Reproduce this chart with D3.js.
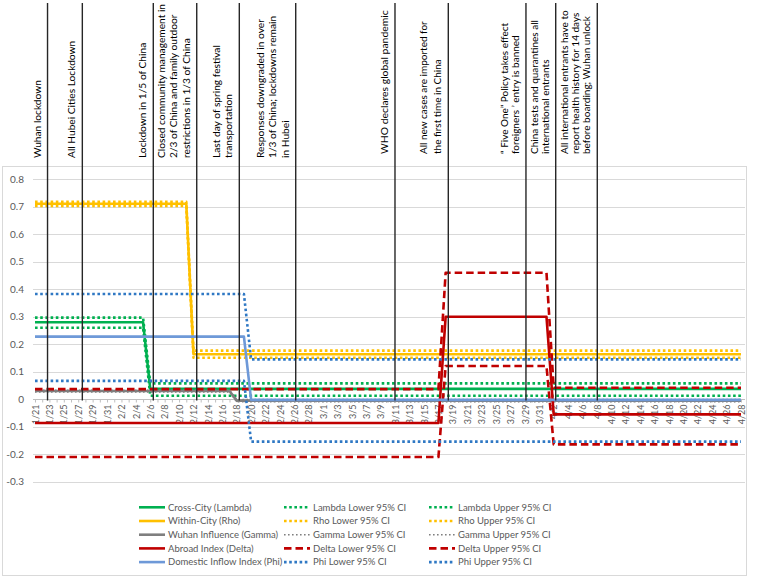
<!DOCTYPE html>
<html><head><meta charset="utf-8">
<script src="https://cdn.jsdelivr.net/npm/d3@7"></script>
<style>body{margin:0;background:#fff;} svg{display:block;}</style>
</head><body><svg id="chart" width="757" height="578"></svg>
<script>
// ---------- DATA ----------
const categories = [
"1/21","1/22","1/23","1/24","1/25","1/26","1/27","1/28","1/29","1/30","1/31",
"2/1","2/2","2/3","2/4","2/5","2/6","2/7","2/8","2/9","2/10","2/11","2/12","2/13","2/14","2/15","2/16","2/17","2/18","2/19","2/20","2/21","2/22","2/23","2/24","2/25","2/26","2/27","2/28","2/29",
"3/1","3/2","3/3","3/4","3/5","3/6","3/7","3/8","3/9","3/10","3/11","3/12","3/13","3/14","3/15","3/16","3/17","3/18","3/19","3/20","3/21","3/22","3/23","3/24","3/25","3/26","3/27","3/28","3/29","3/30","3/31",
"4/1","4/2","4/3","4/4","4/5","4/6","4/7","4/8","4/9","4/10","4/11","4/12","4/13","4/14","4/15","4/16","4/17","4/18","4/19","4/20","4/21","4/22","4/23","4/24","4/25","4/26","4/27","4/28"];

const lambda = [
0.279,0.279,0.279,0.279,0.279,0.279,0.279,0.279,0.279,0.279,
0.279,0.279,0.279,0.279,0.279,0.279,0.037,0.037,0.037,0.037,
0.037,0.037,0.037,0.037,0.037,0.037,0.037,0.037,0.037,0.037,
0.037,0.037,0.037,0.037,0.037,0.037,0.037,0.037,0.037,0.037,
0.037,0.037,0.037,0.037,0.037,0.037,0.037,0.037,0.037,0.037,
0.037,0.037,0.037,0.037,0.037,0.037,0.037,0.037,0.037,0.037,
0.037,0.037,0.037,0.037,0.037,0.037,0.037,0.037,0.037,0.037,
0.037,0.037,0.037,0.037,0.037,0.037,0.037,0.037,0.037,0.037,
0.037,0.037,0.037,0.037,0.037,0.037,0.037,0.037,0.037,0.037,
0.037,0.037,0.037,0.037,0.037,0.037,0.037,0.037,0.037];
const lambdaLower = [
0.259,0.259,0.259,0.259,0.259,0.259,0.259,0.259,0.259,0.259,
0.259,0.259,0.259,0.259,0.259,0.259,0.012,0.012,0.012,0.012,
0.012,0.012,0.012,0.012,0.012,0.012,0.012,0.012,0.012,0.012,
0.012,0.012,0.012,0.012,0.012,0.012,0.012,0.012,0.012,0.012,
0.012,0.012,0.012,0.012,0.012,0.012,0.012,0.012,0.012,0.012,
0.012,0.012,0.012,0.012,0.012,0.012,0.012,0.012,0.012,0.012,
0.012,0.012,0.012,0.012,0.012,0.012,0.012,0.012,0.012,0.012,
0.012,0.012,0.012,0.012,0.012,0.012,0.012,0.012,0.012,0.012,
0.012,0.012,0.012,0.012,0.012,0.012,0.012,0.012,0.012,0.012,
0.012,0.012,0.012,0.012,0.012,0.012,0.012,0.012,0.012];
const lambdaUpper = [
0.296,0.296,0.296,0.296,0.296,0.296,0.296,0.296,0.296,0.296,
0.296,0.296,0.296,0.296,0.296,0.296,0.057,0.057,0.057,0.057,
0.057,0.057,0.057,0.057,0.057,0.057,0.057,0.057,0.057,0.057,
0.057,0.057,0.057,0.057,0.057,0.057,0.057,0.057,0.057,0.057,
0.057,0.057,0.057,0.057,0.057,0.057,0.057,0.057,0.057,0.057,
0.057,0.057,0.057,0.057,0.057,0.057,0.057,0.057,0.057,0.057,
0.057,0.057,0.057,0.057,0.057,0.057,0.057,0.057,0.057,0.057,
0.057,0.057,0.057,0.057,0.057,0.057,0.057,0.057,0.057,0.057,
0.057,0.057,0.057,0.057,0.057,0.057,0.057,0.057,0.057,0.057,
0.057,0.057,0.057,0.057,0.057,0.057,0.057,0.057,0.057];

const rho = [
0.710,0.710,0.710,0.710,0.710,0.710,0.710,0.710,0.710,0.710,
0.710,0.710,0.710,0.710,0.710,0.710,0.710,0.710,0.710,0.710,
0.710,0.710,0.163,0.163,0.163,0.163,0.163,0.163,0.163,0.163,
0.163,0.163,0.163,0.163,0.163,0.163,0.163,0.163,0.163,0.163,
0.163,0.163,0.163,0.163,0.163,0.163,0.163,0.163,0.163,0.163,
0.163,0.163,0.163,0.163,0.163,0.163,0.163,0.163,0.163,0.163,
0.163,0.163,0.163,0.163,0.163,0.163,0.163,0.163,0.163,0.163,
0.163,0.163,0.163,0.163,0.163,0.163,0.163,0.163,0.163,0.163,
0.163,0.163,0.163,0.163,0.163,0.163,0.163,0.163,0.163,0.163,
0.163,0.163,0.163,0.163,0.163,0.163,0.163,0.163,0.163];
const rhoLower = [
0.702,0.702,0.702,0.702,0.702,0.702,0.702,0.702,0.702,0.702,
0.702,0.702,0.702,0.702,0.702,0.702,0.702,0.702,0.702,0.702,
0.702,0.702,0.150,0.150,0.150,0.150,0.150,0.150,0.150,0.150,
0.150,0.150,0.150,0.150,0.150,0.150,0.150,0.150,0.150,0.150,
0.150,0.150,0.150,0.150,0.150,0.150,0.150,0.150,0.150,0.150,
0.150,0.150,0.150,0.150,0.150,0.150,0.150,0.150,0.150,0.150,
0.150,0.150,0.150,0.150,0.150,0.150,0.150,0.150,0.150,0.150,
0.150,0.150,0.150,0.150,0.150,0.150,0.150,0.150,0.150,0.150,
0.150,0.150,0.150,0.150,0.150,0.150,0.150,0.150,0.150,0.150,
0.150,0.150,0.150,0.150,0.150,0.150,0.150,0.150,0.150];
const rhoUpper = [
0.717,0.717,0.717,0.717,0.717,0.717,0.717,0.717,0.717,0.717,
0.717,0.717,0.717,0.717,0.717,0.717,0.717,0.717,0.717,0.717,
0.717,0.717,0.176,0.176,0.176,0.176,0.176,0.176,0.176,0.176,
0.176,0.176,0.176,0.176,0.176,0.176,0.176,0.176,0.176,0.176,
0.176,0.176,0.176,0.176,0.176,0.176,0.176,0.176,0.176,0.176,
0.176,0.176,0.176,0.176,0.176,0.176,0.176,0.176,0.176,0.176,
0.176,0.176,0.176,0.176,0.176,0.176,0.176,0.176,0.176,0.176,
0.176,0.176,0.176,0.176,0.176,0.176,0.176,0.176,0.176,0.176,
0.176,0.176,0.176,0.176,0.176,0.176,0.176,0.176,0.176,0.176,
0.176,0.176,0.176,0.176,0.176,0.176,0.176,0.176,0.176];

const gamma = [
0.029,0.029,0.029,0.029,0.029,0.029,0.029,0.029,0.029,0.029,
0.029,0.029,0.029,0.029,0.029,0.029,0.029,0.029,0.029,0.029,
0.029,0.029,0.029,0.029,0.029,0.029,0.029,0.029,-0.006,-0.006,
-0.006,-0.006,-0.006,-0.006,-0.006,-0.006,-0.006,-0.006,-0.006,-0.006,
-0.006,-0.006,-0.006,-0.006,-0.006,-0.006,-0.006,-0.006,-0.006,-0.006,
-0.006,-0.006,-0.006,-0.006,-0.006,-0.006,-0.006,-0.006,-0.006,-0.006,
-0.006,-0.006,-0.006,-0.006,-0.006,-0.006,-0.006,-0.006,-0.006,-0.006,
-0.006,-0.006,-0.006,-0.006,-0.006,-0.006,-0.006,-0.006,-0.006,-0.006,
-0.006,-0.006,-0.006,-0.006,-0.006,-0.006,-0.006,-0.006,-0.006,-0.006,
-0.006,-0.006,-0.006,-0.006,-0.006,-0.006,-0.006,-0.006,-0.006];
const gammaLower = [
0.026,0.026,0.026,0.026,0.026,0.026,0.026,0.026,0.026,0.026,
0.026,0.026,0.026,0.026,0.026,0.026,0.026,0.026,0.026,0.026,
0.026,0.026,0.026,0.026,0.026,0.026,0.026,0.026,-0.010,-0.010,
-0.010,-0.010,-0.010,-0.010,-0.010,-0.010,-0.010,-0.010,-0.010,-0.010,
-0.010,-0.010,-0.010,-0.010,-0.010,-0.010,-0.010,-0.010,-0.010,-0.010,
-0.010,-0.010,-0.010,-0.010,-0.010,-0.010,-0.010,-0.010,-0.010,-0.010,
-0.010,-0.010,-0.010,-0.010,-0.010,-0.010,-0.010,-0.010,-0.010,-0.010,
-0.010,-0.010,-0.010,-0.010,-0.010,-0.010,-0.010,-0.010,-0.010,-0.010,
-0.010,-0.010,-0.010,-0.010,-0.010,-0.010,-0.010,-0.010,-0.010,-0.010,
-0.010,-0.010,-0.010,-0.010,-0.010,-0.010,-0.010,-0.010,-0.010];
const gammaUpper = [
0.032,0.032,0.032,0.032,0.032,0.032,0.032,0.032,0.032,0.032,
0.032,0.032,0.032,0.032,0.032,0.032,0.032,0.032,0.032,0.032,
0.032,0.032,0.032,0.032,0.032,0.032,0.032,0.032,-0.002,-0.002,
-0.002,-0.002,-0.002,-0.002,-0.002,-0.002,-0.002,-0.002,-0.002,-0.002,
-0.002,-0.002,-0.002,-0.002,-0.002,-0.002,-0.002,-0.002,-0.002,-0.002,
-0.002,-0.002,-0.002,-0.002,-0.002,-0.002,-0.002,-0.002,-0.002,-0.002,
-0.002,-0.002,-0.002,-0.002,-0.002,-0.002,-0.002,-0.002,-0.002,-0.002,
-0.002,-0.002,-0.002,-0.002,-0.002,-0.002,-0.002,-0.002,-0.002,-0.002,
-0.002,-0.002,-0.002,-0.002,-0.002,-0.002,-0.002,-0.002,-0.002,-0.002,
-0.002,-0.002,-0.002,-0.002,-0.002,-0.002,-0.002,-0.002,-0.002];

const delta = [
-0.087,-0.087,-0.087,-0.087,-0.087,-0.087,-0.087,-0.087,-0.087,-0.087,
-0.087,-0.087,-0.087,-0.087,-0.087,-0.087,-0.087,-0.087,-0.087,-0.087,
-0.087,-0.087,-0.087,-0.087,-0.087,-0.087,-0.087,-0.087,-0.087,-0.087,
-0.087,-0.087,-0.087,-0.087,-0.087,-0.087,-0.087,-0.087,-0.087,-0.087,
-0.087,-0.087,-0.087,-0.087,-0.087,-0.087,-0.087,-0.087,-0.087,-0.087,
-0.087,-0.087,-0.087,-0.087,-0.087,-0.087,-0.087,0.299,0.299,0.299,
0.299,0.299,0.299,0.299,0.299,0.299,0.299,0.299,0.299,0.299,
0.299,0.299,-0.056,-0.056,-0.056,-0.056,-0.056,-0.056,-0.056,-0.056,
-0.056,-0.056,-0.056,-0.056,-0.056,-0.056,-0.056,-0.056,-0.056,-0.056,
-0.056,-0.056,-0.056,-0.056,-0.056,-0.056,-0.056,-0.056,-0.056];
const deltaLower = [
-0.211,-0.211,-0.211,-0.211,-0.211,-0.211,-0.211,-0.211,-0.211,-0.211,
-0.211,-0.211,-0.211,-0.211,-0.211,-0.211,-0.211,-0.211,-0.211,-0.211,
-0.211,-0.211,-0.211,-0.211,-0.211,-0.211,-0.211,-0.211,-0.211,-0.211,
-0.211,-0.211,-0.211,-0.211,-0.211,-0.211,-0.211,-0.211,-0.211,-0.211,
-0.211,-0.211,-0.211,-0.211,-0.211,-0.211,-0.211,-0.211,-0.211,-0.211,
-0.211,-0.211,-0.211,-0.211,-0.211,-0.211,-0.211,0.120,0.120,0.120,
0.120,0.120,0.120,0.120,0.120,0.120,0.120,0.120,0.120,0.120,
0.120,0.120,-0.165,-0.165,-0.165,-0.165,-0.165,-0.165,-0.165,-0.165,
-0.165,-0.165,-0.165,-0.165,-0.165,-0.165,-0.165,-0.165,-0.165,-0.165,
-0.165,-0.165,-0.165,-0.165,-0.165,-0.165,-0.165,-0.165,-0.165];
const deltaUpper = [
0.036,0.036,0.036,0.036,0.036,0.036,0.036,0.036,0.036,0.036,
0.036,0.036,0.036,0.036,0.036,0.036,0.036,0.036,0.036,0.036,
0.036,0.036,0.036,0.036,0.036,0.036,0.036,0.036,0.036,0.036,
0.036,0.036,0.036,0.036,0.036,0.036,0.036,0.036,0.036,0.036,
0.036,0.036,0.036,0.036,0.036,0.036,0.036,0.036,0.036,0.036,
0.036,0.036,0.036,0.036,0.036,0.036,0.036,0.459,0.459,0.459,
0.459,0.459,0.459,0.459,0.459,0.459,0.459,0.459,0.459,0.459,
0.459,0.459,0.041,0.041,0.041,0.041,0.041,0.041,0.041,0.041,
0.041,0.041,0.041,0.041,0.041,0.041,0.041,0.041,0.041,0.041,
0.041,0.041,0.041,0.041,0.041,0.041,0.041,0.041,0.041];

const phi = [
0.227,0.227,0.227,0.227,0.227,0.227,0.227,0.227,0.227,0.227,
0.227,0.227,0.227,0.227,0.227,0.227,0.227,0.227,0.227,0.227,
0.227,0.227,0.227,0.227,0.227,0.227,0.227,0.227,0.227,0.227,
-0.003,-0.003,-0.003,-0.003,-0.003,-0.003,-0.003,-0.003,-0.003,-0.003,
-0.003,-0.003,-0.003,-0.003,-0.003,-0.003,-0.003,-0.003,-0.003,-0.003,
-0.003,-0.003,-0.003,-0.003,-0.003,-0.003,-0.003,-0.003,-0.003,-0.003,
-0.003,-0.003,-0.003,-0.003,-0.003,-0.003,-0.003,-0.003,-0.003,-0.003,
-0.003,-0.003,-0.003,-0.003,-0.003,-0.003,-0.003,-0.003,-0.003,-0.003,
-0.003,-0.003,-0.003,-0.003,-0.003,-0.003,-0.003,-0.003,-0.003,-0.003,
-0.003,-0.003,-0.003,-0.003,-0.003,-0.003,-0.003,-0.003,-0.003];
const phiLower = [
0.066,0.066,0.066,0.066,0.066,0.066,0.066,0.066,0.066,0.066,
0.066,0.066,0.066,0.066,0.066,0.066,0.066,0.066,0.066,0.066,
0.066,0.066,0.066,0.066,0.066,0.066,0.066,0.066,0.066,0.066,
-0.155,-0.155,-0.155,-0.155,-0.155,-0.155,-0.155,-0.155,-0.155,-0.155,
-0.155,-0.155,-0.155,-0.155,-0.155,-0.155,-0.155,-0.155,-0.155,-0.155,
-0.155,-0.155,-0.155,-0.155,-0.155,-0.155,-0.155,-0.155,-0.155,-0.155,
-0.155,-0.155,-0.155,-0.155,-0.155,-0.155,-0.155,-0.155,-0.155,-0.155,
-0.155,-0.155,-0.155,-0.155,-0.155,-0.155,-0.155,-0.155,-0.155,-0.155,
-0.155,-0.155,-0.155,-0.155,-0.155,-0.155,-0.155,-0.155,-0.155,-0.155,
-0.155,-0.155,-0.155,-0.155,-0.155,-0.155,-0.155,-0.155,-0.155];
const phiUpper = [
0.382,0.382,0.382,0.382,0.382,0.382,0.382,0.382,0.382,0.382,
0.382,0.382,0.382,0.382,0.382,0.382,0.382,0.382,0.382,0.382,
0.382,0.382,0.382,0.382,0.382,0.382,0.382,0.382,0.382,0.382,
0.144,0.144,0.144,0.144,0.144,0.144,0.144,0.144,0.144,0.144,
0.144,0.144,0.144,0.144,0.144,0.144,0.144,0.144,0.144,0.144,
0.144,0.144,0.144,0.144,0.144,0.144,0.144,0.144,0.144,0.144,
0.144,0.144,0.144,0.144,0.144,0.144,0.144,0.144,0.144,0.144,
0.144,0.144,0.144,0.144,0.144,0.144,0.144,0.144,0.144,0.144,
0.144,0.144,0.144,0.144,0.144,0.144,0.144,0.144,0.144,0.144,
0.144,0.144,0.144,0.144,0.144,0.144,0.144,0.144,0.144];

const yTickValues = [-0.3,-0.2,-0.1,0,0.1,0.2,0.3,0.4,0.5,0.6,0.7,0.8];
const yTickLabels = ["-0.3","-0.2","-0.1","0","0.1","0.2","0.3","0.4","0.5","0.6","0.7","0.8"];

// event markers: position on the category axis (index units, hand-placed in original)
const eventPos = [1.74, 6.57, 16.42, 22.45, 28.36, 36.19, 49.97, 57.37, 68.15, 72.28, 78.05];
const eventText = [
  ["Wuhan lockdown"],
  ["All Hubei Cities Lockdown"],
  ["Lockdown in 1/5 of China"],
  ["Closed community management in","2/3 of China and  family outdoor","restrictions in 1/3 of China"],
  ["Last day of spring festival","transportation"],
  ["Responses downgraded in over","1/3 of China; lockdowns remain","in Hubei"],
  ["WHO declares global pandemic"],
  ["All new cases are imported for","the first time in China"],
  ["\u201C Five One\u201D   Policy takes effect","foreigners \u2019  entry is banned"],
  ["China tests and quarantines all","international entrants"],
  ["All international entrants have to","report health history for 14 days","before boarding; Wuhan unlock"]
];

// ---------- STYLE / LAYOUT ----------
const GREEN="#00b050", YELLOW="#ffc000", GRAY="#7f7f7f", RED="#c00000", LBLUE="#6e99d8", DBLUE="#2f78c4";
const DOT="2.6,2.6", DASH="7.5,4";
const series = [
  {name:"Cross-City (Lambda)", data:lambda, color:GREEN, w:2.6, dash:null},
  {name:"Lambda Lower 95% CI", data:lambdaLower, color:GREEN, w:2.6, dash:DOT},
  {name:"Lambda Upper 95% CI", data:lambdaUpper, color:GREEN, w:2.6, dash:DOT},
  {name:"Within-City (Rho)", data:rho, color:YELLOW, w:2.6, dash:null},
  {name:"Rho Lower 95% CI", data:rhoLower, color:YELLOW, w:2.6, dash:DOT},
  {name:"Rho Upper 95% CI", data:rhoUpper, color:YELLOW, w:2.6, dash:DOT},
  {name:"Wuhan Influence (Gamma)", data:gamma, color:GRAY, w:2.6, dash:null},
  {name:"Gamma Lower 95% CI", data:gammaLower, color:GRAY, w:1.6, dash:"1.6,2.4"},
  {name:"Gamma Upper 95% CI", data:gammaUpper, color:GRAY, w:1.6, dash:"1.6,2.4"},
  {name:"Abroad Index (Delta)", data:delta, color:RED, w:2.6, dash:null},
  {name:"Delta Lower 95% CI", data:deltaLower, color:RED, w:2.6, dash:DASH},
  {name:"Delta Upper 95% CI", data:deltaUpper, color:RED, w:2.6, dash:DASH},
  {name:"Domestic Inflow Index (Phi)", data:phi, color:LBLUE, w:2.6, dash:null},
  {name:"Phi Lower 95% CI", data:phiLower, color:DBLUE, w:2.6, dash:DOT},
  {name:"Phi Upper 95% CI", data:phiUpper, color:DBLUE, w:2.6, dash:DOT}
];

const svg = d3.select("#chart");
const plot = {left:35, right:741, gridL:33, gridR:745};

const x = d3.scaleLinear().domain([0, categories.length-1]).range([plot.left, plot.right]);
const y = d3.scaleLinear().domain([-0.3, 0.8]).range([481.5, 179]);

// chart area border
svg.append("rect").attr("x",2.5).attr("y",166.5).attr("width",744).attr("height",409)
  .attr("fill","none").attr("stroke","#d9d9d9").attr("stroke-width",1);

// gridlines
svg.append("g").selectAll("line").data(yTickValues.filter(v=>v!==0)).join("line")
  .attr("x1",plot.gridL).attr("x2",plot.gridR)
  .attr("y1",d=>Math.round(y(d))+0.5).attr("y2",d=>Math.round(y(d))+0.5)
  .attr("stroke","#d9d9d9").attr("stroke-width",1);

// y labels
svg.append("g").selectAll("text").data(yTickValues).join("text")
  .attr("x",24).attr("y",d=>y(d)).attr("dy","0.35em")
  .attr("text-anchor","end").attr("font-family","Lato, 'Noto Sans', sans-serif")
  .attr("font-size",10).attr("fill","#595959")
  .text((d,i)=>yTickLabels[i]);

// x axis
const zeroY = Math.round(y(0))+0.5;
const xAxis = d3.axisBottom(x)
  .tickValues(d3.range(categories.length))
  .tickSize(3).tickFormat(i => i%2===0 ? categories[i] : "");
const gx = svg.append("g").attr("transform",`translate(0,${zeroY})`).call(xAxis);
gx.select(".domain").attr("stroke","#bfbfbf").attr("d",`M${plot.gridL},0H${plot.gridR}`);
gx.selectAll(".tick line").attr("stroke","#bfbfbf");
gx.selectAll(".tick text")
  .attr("font-family","Lato, 'Noto Sans', sans-serif").attr("font-size",9).attr("fill","#595959")
  .attr("transform","rotate(-90)").attr("text-anchor","end")
  .attr("x",-5).attr("y",0).attr("dy","0.35em");

// series
const line = d3.line().x((d,i)=>x(i)).y(d=>y(d));
svg.append("g").selectAll("path").data(series).join("path")
  .attr("d",s=>line(s.data)).attr("fill","none")
  .attr("stroke",s=>s.color).attr("stroke-width",s=>s.w)
  .attr("stroke-dasharray",s=>s.dash).attr("stroke-linejoin","round");

// event lines
svg.append("g").selectAll("line").data(eventPos).join("line")
  .attr("x1",d=>x(d)).attr("x2",d=>x(d)).attr("y1",3).attr("y2",zeroY+1)
  .attr("stroke","#262626").attr("stroke-width",1.4);

// event annotations (rotated, reading bottom-to-top, left of each marker line)
const evStyle = eventPos.map((p,i)=>({
  lh: i<6 ? 12.6 : (i===7 ? 14.5 : 11),
  fs: i<6 ? 10.2 : (i===6 ? 10.4 : 10),
  y0: i<6 ? 158 : 154
}));
const evG = svg.append("g").attr("font-family","Lato, 'Noto Sans', sans-serif").attr("fill","#000");
eventText.forEach((lines,i)=>{
  const st = evStyle[i];
  const lastCenter = x(eventPos[i]) - 10.5;
  const firstCenter = lastCenter - (lines.length-1)*st.lh;
  const t = evG.append("text")
    .attr("transform",`translate(${firstCenter},${st.y0}) rotate(-90)`)
    .attr("font-size",st.fs);
  lines.forEach((ln,k)=>{
    t.append("tspan").attr("x",0).attr("y",k*st.lh).attr("dy","0.35em").text(ln);
  });
});

// legend
const legCols = [139, 284, 429];
const legRows = d3.range(5).map(r=>507.3 + r*13.7);
const legend = svg.append("g").attr("font-family","Lato, 'Noto Sans', sans-serif").attr("font-size",9.5).attr("fill","#595959");
series.forEach((s,i)=>{
  const grp = Math.floor(i/3), k = i%3;
  const lx = legCols[k], ly = legRows[grp];
  legend.append("line").attr("x1",lx).attr("x2",lx+26).attr("y1",ly).attr("y2",ly)
    .attr("stroke",s.color).attr("stroke-width",s.w).attr("stroke-dasharray",s.dash);
  legend.append("text").attr("x",lx+29).attr("y",ly).attr("dy","0.35em").text(s.name);
});
</script></body></html>
